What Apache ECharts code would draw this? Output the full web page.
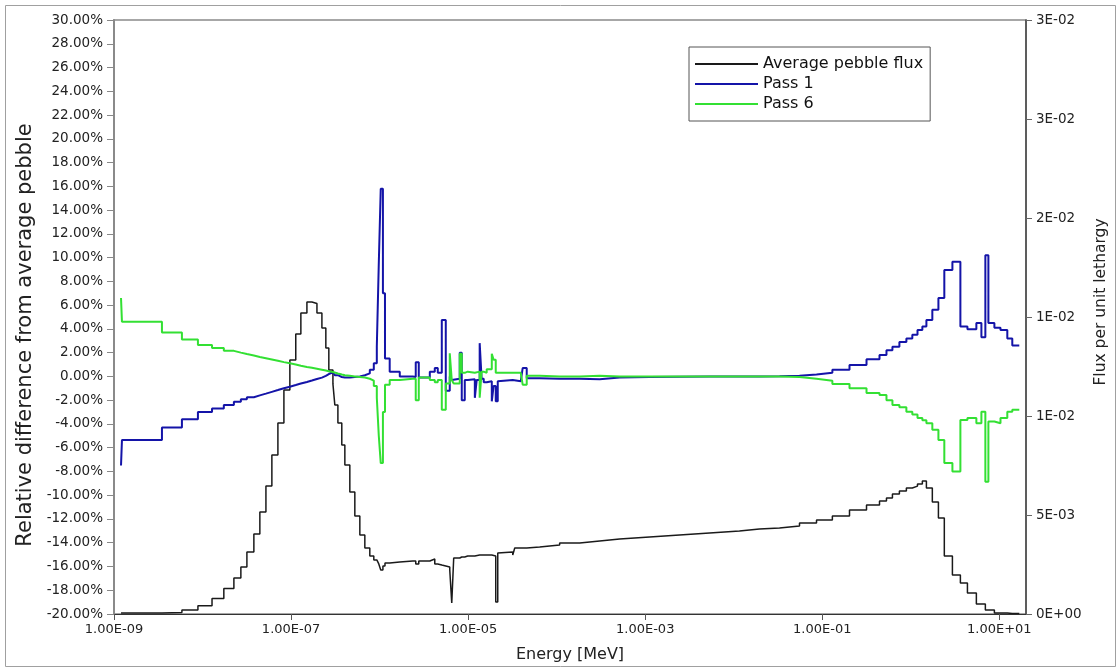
<!DOCTYPE html>
<html lang="en">
<head>
    <meta charset="UTF-8">
    <title>Pebble flux</title>
    <script src="https://cdn.jsdelivr.net/npm/echarts@6/dist/echarts.min.js"></script>
    <style>
        html, body { margin: 0; padding: 0; background: #fff; }
        #main { width: 1120px; height: 670px; }
    </style>
</head>
<body>
    <div id="main"></div>
    <script type="text/javascript">
        // energy group boundaries [MeV], last entry is the upper edge of the last group
        var energy = [
            1.20e-9, 1.23e-9, 3.48e-9, 5.85e-9, 8.87e-9, 1.28e-8, 1.74e-8, 2.26e-8, 2.71e-8, 3.17e-8,
            3.80e-8, 4.44e-8, 5.20e-8, 6.07e-8, 7.10e-8, 8.30e-8, 9.69e-8, 1.13e-7, 1.29e-7, 1.51e-7,
            1.72e-7, 1.96e-7, 2.23e-7, 2.47e-7, 2.67e-7, 2.97e-7, 3.12e-7, 3.38e-7, 3.74e-7, 4.05e-7,
            4.61e-7, 5.25e-7, 5.98e-7, 6.81e-7, 7.75e-7, 8.60e-7, 9.30e-7, 9.79e-7, 1.03e-6, 1.09e-6,
            1.15e-6, 1.30e-6, 1.69e-6, 2.37e-6, 2.56e-6, 2.77e-6, 3.69e-6, 4.20e-6, 4.54e-6, 5.04e-6,
            5.59e-6, 6.20e-6, 6.53e-6, 6.87e-6, 8.04e-6, 8.47e-6, 9.16e-6, 9.89e-6, 1.19e-5, 1.25e-5,
            1.35e-5, 1.42e-5, 1.50e-5, 1.62e-5, 1.85e-5, 1.94e-5, 2.05e-5, 2.16e-5, 2.27e-5, 3.19e-5,
            3.36e-5, 3.93e-5, 4.13e-5, 4.59e-5, 6.43e-5, 1.08e-4, 1.82e-4, 3.06e-4, 5.14e-4, 1.12e-3,
            2.44e-3, 5.33e-3, 1.16e-2, 1.95e-2, 3.29e-2, 5.53e-2, 8.61e-2, 0.130, 0.203, 0.316,
            0.443, 0.531, 0.620, 0.743, 0.891, 1.04, 1.19, 1.35, 1.50, 1.75,
            2.05, 2.39, 2.95, 3.63, 4.36, 5.50, 6.27, 6.95, 7.52, 8.79,
            10.3, 12.3, 14.0, 16.8
        ];

        // average pebble flux per unit lethargy, in units of 1E-03
        var avgFlux = [
            0.05, 0.05, 0.08, 0.2, 0.42, 0.78, 1.29, 1.82, 2.37, 3.13,
            4.04, 5.15, 6.46, 8.03, 9.65, 11.31, 12.83, 14.14, 15.2, 15.76,
            15.68, 15.2, 14.44, 13.43, 12.32, 11.62, 10.56, 9.65, 8.54, 7.53,
            6.16, 4.95, 3.99, 3.33, 2.93, 2.73, 2.63, 2.53, 2.22, 2.42,
            2.58, 2.63, 2.68, 2.68, 2.53, 2.68, 2.78, 2.53, 2.47, 2.42,
            2.37, 2.22, 0.56, 2.83, 2.88, 2.88, 2.93, 2.93, 2.93, 2.98,
            2.98, 2.98, 2.98, 2.98, 2.98, 2.93, 0.61, 3.08, 3.13, 2.98,
            3.33, 3.33, 3.33, 3.38, 3.48, 3.59, 3.69, 3.79, 3.89, 3.99,
            4.09, 4.19, 4.29, 4.34, 4.44, 4.60, 4.75, 4.95, 5.25, 5.5,
            5.71, 5.86, 6.06, 6.21, 6.36, 6.46, 6.57, 6.72, 6.36, 5.66,
            4.85, 2.93, 1.97, 1.57, 1.06, 0.51, 0.51, 0.2, 0.2, 0.05,
            0.05, 0.02, 0.02
        ];

        // relative difference from average pebble [%]
        var pass1 = [
            -7.5, -5.35, -4.3, -3.6, -3.0, -2.7, -2.4, -2.13, -1.93, -1.76,
            -1.6, -1.45, -1.3, -1.15, -1.0, -0.87, -0.73, -0.6, -0.47, -0.35,
            -0.22, -0.1, 0.05, 0.2, 0.35, 0.25, 0.1, -0.05, -0.1, -0.1,
            -0.05, 0.0, 0.1, 0.25, 0.55, 1.1, 2.5, 9.5, 15.8, 7.0,
            1.5, 0.4, 0.0, -0.05, 1.2, -0.1, 0.4, 0.7, 0.3, 4.75,
            -1.2, 0.0, -0.3, -0.2, 2.0, -2.0, -0.3, -0.25, -1.8, -0.3,
            2.8, -0.2, -0.5, -0.4, -2.1, -0.8, -2.1, -0.4, -0.3, -0.35,
            -0.4, -0.4, 0.7, -0.15, -0.2, -0.2, -0.25, -0.1, -0.05, -0.02,
            0, 0, 0, 0.02, 0.05, 0.15, 0.3, 0.55, 0.95, 1.45,
            1.8, 2.2, 2.5, 2.9, 3.2, 3.5, 3.9, 4.2, 4.75, 5.6,
            6.6, 8.95, 9.65, 4.2, 3.96, 4.5, 3.3, 10.2, 4.5, 4.1,
            3.9, 3.2, 2.6
        ];

        var pass6 = [
            6.6, 4.6, 3.7, 3.1, 2.65, 2.4, 2.15, 2.0, 1.88, 1.76,
            1.64, 1.53, 1.42, 1.31, 1.2, 1.1, 1.0, 0.9, 0.8, 0.72,
            0.64, 0.56, 0.49, 0.43, 0.37, 0.3, 0.24, 0.16, 0.1, 0.05,
            0.0, -0.05, -0.1, -0.2, -0.35, -0.8, -1.8, -5.0, -7.3, -3.0,
            -0.7, -0.3, -0.2, -0.2, -2.0, -0.1, -0.3, -0.5, -0.3, -2.8,
            -0.6, 1.95, -0.3, -0.6, 1.9, 0.3, 0.4, 0.3, 0.4, 0.4,
            -1.8, 0.4, 0.3, 0.6, 1.9, 1.4, 0.3, 0.3, 0.3, 0.3,
            0.3, 0.3, -0.7, 0.05, 0.0, 0.0, 0.05, 0.0, 0, 0,
            0, 0, 0, 0, -0.05, -0.2, -0.36, -0.64, -1.0, -1.4,
            -1.57, -2.0, -2.4, -2.6, -2.97, -3.2, -3.5, -3.7, -3.95, -4.5,
            -5.35, -7.3, -8.0, -3.67, -3.5, -3.95, -2.97, -8.86, -3.8, -3.95,
            -3.5, -2.97, -2.8
        ];

        var xTicks = [1e-9, 1e-7, 1e-5, 1e-3, 1e-1, 1e1];

        // histogram -> step points, last group value repeated at the upper edge
        function steps(vals) {
            var out = [];
            for (var i = 0; i < energy.length; i++) {
                out.push([energy[i], vals[Math.min(i, vals.length - 1)]]);
            }
            return out;
        }

        function sci(s) {
            var p = s.split('e');
            var e = parseInt(p[1], 10);
            return p[0] + 'E' + (e < 0 ? '-' : '+') + (Math.abs(e) < 10 ? '0' : '') + Math.abs(e);
        }

        var myChart = echarts.init(document.getElementById('main'));

        var lineIcon = 'path://M0,0 L63,0 L63,2 L0,2 Z';

        var option = {
            animation: false,
            backgroundColor: '#fff',
            textStyle: { fontFamily: 'DejaVu Sans' },
            graphic: [{
                type: 'rect',
                shape: { x: 5.5, y: 5.5, width: 1110, height: 661 },
                style: { fill: 'none', stroke: '#a0a0a0', lineWidth: 1 },
                silent: true
            }],
            grid: {
                left: 114, right: 94, top: 20, bottom: 56,
                outerBoundsMode: 'none',
                show: true, borderColor: '#8a8a8a', borderWidth: 1.5
            },
            legend: {
                orient: 'vertical',
                left: 689, top: 47,
                padding: [9, 7, 9, 6],
                itemGap: 4,
                itemWidth: 63,
                itemHeight: 14,
                itemTextGap: 14,
                icon: lineIcon,
                borderColor: '#555', borderWidth: 1,
                backgroundColor: '#fff',
                textStyle: { fontSize: 16, color: '#111' },
                data: ['Average pebble flux', 'Pass 1', 'Pass 6']
            },
            xAxis: {
                type: 'log',
                logBase: 10,
                min: 1e-9,
                max: 20,
                name: 'Energy [MeV]',
                nameLocation: 'middle',
                nameGap: 33,
                nameTextStyle: { fontSize: 16, color: '#222' },
                axisLine: { onZero: false, lineStyle: { color: '#333', width: 1 } },
                axisTick: { length: 6, lineStyle: { color: '#555' }, customValues: xTicks },
                axisLabel: {
                    fontSize: 13, color: '#222', margin: 9,
                    customValues: xTicks,
                    formatter: function (v) { return sci(Number(v).toExponential(2)); }
                },
                splitLine: { show: false },
                minorTick: { show: false }
            },
            yAxis: [{
                type: 'value',
                position: 'left',
                min: -20, max: 30, interval: 2,
                name: 'Relative difference from average pebble',
                nameLocation: 'middle',
                nameGap: 76,
                nameTextStyle: { fontSize: 21, color: '#222', padding: [0, 36, 0, 0] },
                axisLine: { show: true, onZero: false, lineStyle: { color: '#8a8a8a', width: 2 } },
                axisTick: { show: true, length: 7, lineStyle: { color: '#888' } },
                axisLabel: {
                    fontSize: 13.5, color: '#222', margin: 11,
                    formatter: function (v) { return v.toFixed(2) + '%'; }
                },
                splitLine: { show: false }
            }, {
                type: 'value',
                position: 'right',
                min: 0, max: 30, interval: 5,
                name: 'Flux per unit lethargy',
                nameLocation: 'middle',
                nameGap: 66,
                nameRotate: 90,
                nameTextStyle: { fontSize: 15.5, color: '#222', padding: [0, 0, 0, 30] },
                axisLine: { show: true, onZero: false, lineStyle: { color: '#444', width: 1.5 } },
                axisTick: { show: true, length: 6, lineStyle: { color: '#666' } },
                axisLabel: {
                    fontSize: 13.5, color: '#222', margin: 10,
                    formatter: function (v) { return sci((v / 1000).toExponential(0)); }
                },
                splitLine: { show: false }
            }],
            series: [{
                name: 'Average pebble flux',
                type: 'line',
                yAxisIndex: 1,
                step: 'end',
                symbol: 'none',
                color: '#1a1a1a',
                lineStyle: { color: '#1a1a1a', width: 1.5 },
                data: steps(avgFlux)
            }, {
                name: 'Pass 1',
                type: 'line',
                yAxisIndex: 0,
                step: 'end',
                symbol: 'none',
                color: '#1414a8',
                lineStyle: { color: '#1414a8', width: 2 },
                data: steps(pass1)
            }, {
                name: 'Pass 6',
                type: 'line',
                yAxisIndex: 0,
                step: 'end',
                symbol: 'none',
                color: '#33e033',
                lineStyle: { color: '#33e033', width: 2 },
                data: steps(pass6)
            }]
        };

        myChart.setOption(option);
    </script>
</body>
</html>
